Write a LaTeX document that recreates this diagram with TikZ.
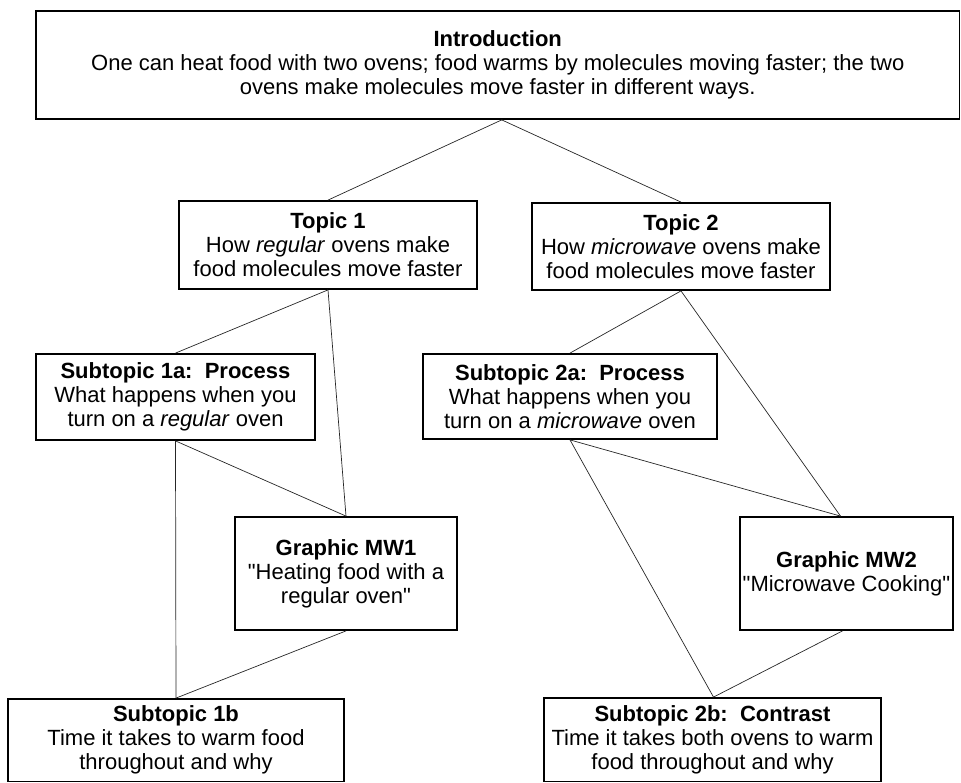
\documentclass[tikz,border=0pt]{standalone}
\usepackage{fontspec}
\setmainfont{Liberation Sans}
% same face without the TeX ligature mapping, for straight double quotes
\newfontfamily\quotefont{Liberation Sans}
\newcommand{\dq}{{\quotefont\char34}}
\begin{document}
\begin{tikzpicture}[x=1pt,y=-1pt,
  box/.style={draw=black, line width=1.8pt, fill=white, align=center,
    inner sep=0pt, font=\fontsize{22}{24}\selectfont},
  link/.style={draw=black!85, line width=0.7pt}]
\useasboundingbox (0,0) rectangle (961,783);

% outline boxes
\node[box, minimum width=923.5pt, minimum height=108pt] (intro) at (497.75,65)
  {\textbf{Introduction}\\One can heat food with two ovens; food warms by molecules moving faster; the two\\ovens make molecules move faster in different ways.};
\node[box, minimum width=298pt, minimum height=88pt] (topic1) at (328,245)
  {\textbf{Topic 1}\\How \textit{regular} ovens make\\food molecules move faster};
\node[box, minimum width=298pt, minimum height=87pt] (topic2) at (681,246.5)
  {\textbf{Topic 2}\\How \textit{microwave} ovens make\\food molecules move faster};
\node[box, minimum width=279pt, minimum height=86pt] (sub1a) at (175.5,397)
  {\textbf{Subtopic 1a:~~Process}\\What happens when you\\turn on a \textit{regular} oven};
\node[box, minimum width=294pt, minimum height=85pt] (sub2a) at (570,396.5)
  {\textbf{Subtopic 2a:~~Process}\\What happens when you\\turn on a \textit{microwave} oven};
\node[box, minimum width=222pt, minimum height=113pt] (mw1) at (346,573.5)
  {\textbf{Graphic MW1}\\\dq Heating food with a\\regular oven\dq};
\node[box, minimum width=213pt, minimum height=113pt] (mw2) at (846.5,573.5)
  {\textbf{Graphic MW2}\\\dq Microwave Cooking\dq};
\node[box, minimum width=336pt, minimum height=82.5pt] (sub1b) at (176,740.25)
  {\textbf{Subtopic 1b}\\Time it takes to warm food\\throughout and why};
\node[box, minimum width=337pt, minimum height=83.5pt] (sub2b) at (712.5,739.75)
  {\textbf{Subtopic 2b:~~Contrast}\\Time it takes both ovens to warm\\food throughout and why};

% connectors
\draw[link] ([xshift=4pt]intro.south) -- (topic1.north);
\draw[link] ([xshift=4pt]intro.south) -- (topic2.north);
\draw[link] (topic1.south) -- (sub1a.north);
\draw[link] (topic1.south) -- (mw1.north);
\draw[link] (topic2.south) -- (sub2a.north);
\draw[link] (topic2.south) -- ([xshift=-6pt]mw2.north);
\draw[link] (sub1a.south) -- (sub1b.north);
\draw[link] (sub1a.south) -- (mw1.north);
\draw[link] (mw1.south) -- (sub1b.north);
\draw[link] (sub2a.south) -- ([xshift=-6pt]mw2.north);
\draw[link] (sub2a.south) -- ([xshift=1pt]sub2b.north);
\draw[link] ([xshift=-4pt]mw2.south) -- ([xshift=1pt]sub2b.north);
\end{tikzpicture}
\end{document}
